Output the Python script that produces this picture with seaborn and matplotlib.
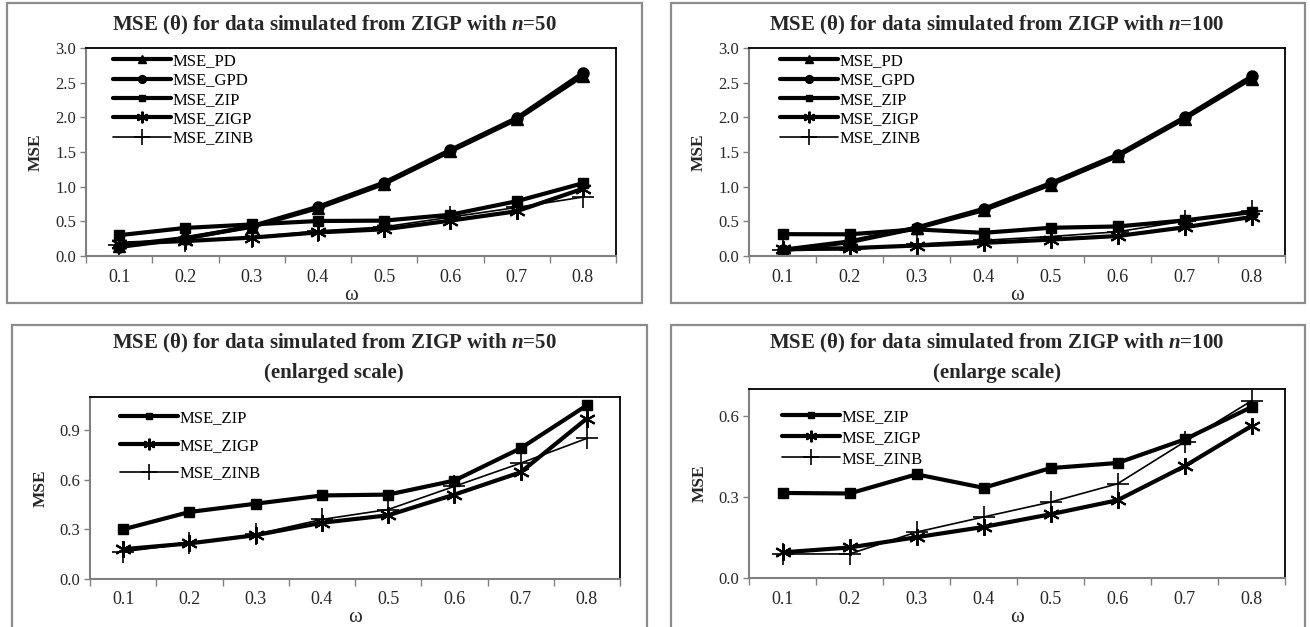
import matplotlib
matplotlib.use("Agg")
import matplotlib.pyplot as plt
from matplotlib.patches import Rectangle
from matplotlib.ticker import FixedLocator, FormatStrFormatter
import seaborn as sns
import pandas as pd

# omega values (x axis)
omega = [0.1, 0.2, 0.3, 0.4, 0.5, 0.6, 0.7, 0.8]

# n = 50
pd_50 = [0.15, 0.26, 0.42, 0.69, 1.04, 1.51, 1.97, 2.60]
gpd_50 = [0.13, 0.25, 0.43, 0.71, 1.06, 1.53, 1.99, 2.64]
zip_50 = [0.30, 0.405, 0.455, 0.505, 0.51, 0.595, 0.79, 1.05]
zigp_50 = [0.18, 0.215, 0.265, 0.34, 0.385, 0.51, 0.645, 0.97]
zinb_50 = [0.165, 0.215, 0.27, 0.36, 0.42, 0.56, 0.70, 0.85]

# n = 100
pd_100 = [0.08, 0.20, 0.40, 0.66, 1.03, 1.44, 1.98, 2.56]
gpd_100 = [0.09, 0.21, 0.41, 0.68, 1.05, 1.46, 2.00, 2.59]
zip_100 = [0.315, 0.313, 0.384, 0.334, 0.407, 0.426, 0.513, 0.633]
zigp_100 = [0.095, 0.113, 0.151, 0.189, 0.236, 0.288, 0.414, 0.563]
zinb_100 = [0.089, 0.089, 0.17, 0.226, 0.281, 0.349, 0.504, 0.656]

sns.set_theme(style="white")
plt.rcParams["font.family"] = ["Liberation Serif", "DejaVu Serif"]
plt.rcParams["mathtext.fontset"] = "custom"
plt.rcParams["mathtext.it"] = "Liberation Serif:italic:bold"
plt.rcParams["mathtext.rm"] = "Liberation Serif:bold"

W, H = 1310, 627
fig = plt.figure(figsize=(W / 100, H / 100), dpi=100)
fig.patch.set_facecolor("white")

# marker styles per series
styles = {
    "MSE_PD": dict(marker="^", lw=3.0, ms=8, mew=1),
    "MSE_GPD": dict(marker="o", lw=3.0, ms=8, mew=1),
    "MSE_ZIP": dict(marker="s", lw=3.0, ms=7, mew=1),
    "MSE_ZIGP": dict(marker=(6, 2, 0), lw=3.0, ms=12, mew=1.5),
    "MSE_ZINB": dict(marker="+", lw=1.2, ms=16, mew=1.2),
}


def px_axes(x0, y0, x1, y1):
    return fig.add_axes([x0 / W, 1 - y1 / H, (x1 - x0) / W, (y1 - y0) / H])


def frame_box(x0, y0, x1, y1):
    fig.add_artist(Rectangle((x0 / W, 1 - y1 / H), (x1 - x0) / W, (y1 - y0) / H,
                             transform=fig.transFigure, fill=False,
                             ec="#8c8c8c", lw=1.6))


def draw_panel(ax, data, yticks, ylim, legend_anchor, labelspacing):
    df = pd.DataFrame(data)
    df["omega"] = omega
    long = df.melt(id_vars="omega", var_name="series", value_name="MSE")
    for name in data:
        sub = long[long["series"] == name]
        st = styles[name]
        sns.lineplot(data=sub, x="omega", y="MSE", ax=ax, color="black",
                     marker=st["marker"], lw=st["lw"], markersize=st["ms"],
                     markeredgewidth=st["mew"], markeredgecolor="black",
                     label=name)
    ax.set_xlim(0.05, 0.85)
    ax.set_ylim(*ylim)
    ax.set_xticks(omega)
    ax.set_xticklabels([f"{v:.1f}" for v in omega], fontsize=13)
    ax.xaxis.set_minor_locator(FixedLocator([0.05 + 0.1 * i for i in range(9)]))
    ax.tick_params(axis="x", which="major", length=0, pad=9)
    ax.tick_params(axis="x", which="minor", length=5, width=1, color="#808080",
                   direction="out", bottom=True)
    ax.set_yticks(yticks)
    ax.yaxis.set_major_formatter(FormatStrFormatter("%.1f"))
    ax.tick_params(axis="y", length=4, width=1, color="#808080", direction="out",
                   left=True, labelsize=12, pad=3)
    for s in ["top", "right"]:
        ax.spines[s].set_color("black")
        ax.spines[s].set_linewidth(1.3)
    for s in ["left", "bottom"]:
        ax.spines[s].set_color("#808080")
        ax.spines[s].set_linewidth(1.5)
    ax.set_xlabel("ω", fontsize=15, labelpad=0)
    ax.set_ylabel("MSE", fontsize=12.5, fontweight="bold", labelpad=8)
    leg = ax.legend(loc="upper left", bbox_to_anchor=legend_anchor, frameon=False,
                    fontsize=12, handlelength=3.5, handletextpad=0.1,
                    borderpad=0, borderaxespad=0, labelspacing=labelspacing,
                    markerscale=0.7)
    for t in leg.get_texts():
        t.set_color("black")


title50 = r"MSE (θ) for data simulated from ZIGP with $n$=50"
title100 = r"MSE (θ) for data simulated from ZIGP with $n$=100"
title_kw = dict(ha="center", va="center", fontsize=15, fontweight="bold")

# top left
frame_box(7, 3, 642, 303)
ax1 = px_axes(86, 48, 616, 256)
draw_panel(ax1, {"MSE_PD": pd_50, "MSE_GPD": gpd_50, "MSE_ZIP": zip_50,
                 "MSE_ZIGP": zigp_50, "MSE_ZINB": zinb_50},
           [0, 0.5, 1.0, 1.5, 2.0, 2.5, 3.0], (0, 3.0), (27 / 530, 1 - 5 / 208), 0.2)
fig.text(334 / W, 1 - 25 / H, title50, **title_kw)

# top right
frame_box(671, 3, 1305, 303)
ax2 = px_axes(749, 48, 1285, 256)
draw_panel(ax2, {"MSE_PD": pd_100, "MSE_GPD": gpd_100, "MSE_ZIP": zip_100,
                 "MSE_ZIGP": zigp_100, "MSE_ZINB": zinb_100},
           [0, 0.5, 1.0, 1.5, 2.0, 2.5, 3.0], (0, 3.0), (31 / 536, 1 - 5 / 208), 0.2)
fig.text(997 / W, 1 - 25 / H, title100, **title_kw)

# bottom left
frame_box(12, 325, 647, 640)
ax3 = px_axes(90, 397, 620, 579)
draw_panel(ax3, {"MSE_ZIP": zip_50, "MSE_ZIGP": zigp_50, "MSE_ZINB": zinb_50},
           [0, 0.3, 0.6, 0.9], (0, 1.1), (30 / 530, 1 - 13 / 182), 0.7)
fig.text(334 / W, 1 - 343 / H, title50, **title_kw)
fig.text(334 / W, 1 - 373 / H, "(enlarged scale)", **title_kw)

# bottom right
frame_box(671, 325, 1305, 640)
ax4 = px_axes(749, 389, 1285, 578)
draw_panel(ax4, {"MSE_ZIP": zip_100, "MSE_ZIGP": zigp_100, "MSE_ZINB": zinb_100},
           [0, 0.3, 0.6], (0, 0.7), (33 / 536, 1 - 20 / 189), 0.3)
fig.text(997 / W, 1 - 343 / H, title100, **title_kw)
fig.text(997 / W, 1 - 373 / H, "(enlarge scale)", **title_kw)

fig.savefig("out.png", dpi=100, facecolor="white")
